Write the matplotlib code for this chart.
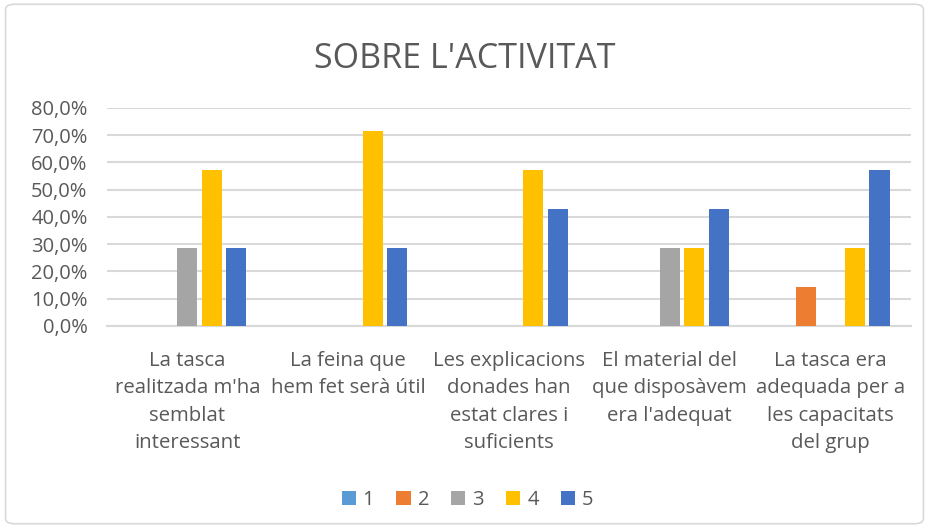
import matplotlib.pyplot as plt
import numpy as np
from matplotlib.patches import FancyBboxPatch

CATEGORIES = ["La tasca\nrealitzada m'ha\nsemblat\ninteressant",
              "La feina que\nhem fet serà útil",
              "Les explicacions\ndonades han\nestat clares i\nsuficients",
              "El material del\nque disposàvem\nera l'adequat",
              "La tasca era\nadequada per a\nles capacitats\ndel grup"]
SERIES = ['1', '2', '3', '4', '5']
VALUES = {
    '1': [0.0, 0.0, 0.0, 0.0, 0.0],
    '2': [0.0, 0.0, 0.0, 0.0, 14.3],
    '3': [28.6, 0.0, 0.0, 28.6, 0.0],
    '4': [57.1, 71.4, 57.1, 28.6, 28.6],
    '5': [28.6, 28.6, 42.9, 42.9, 57.1],
}
COLOURS = ['#5B9BD5', '#ED7D31', '#A5A5A5', '#FFC000', '#4472C4']
YTICKS = [0, 10, 20, 30, 40, 50, 60, 70, 80]

TEXT = '#595959'
GRID = '#D9D9D9'
plt.rcParams['font.family'] = ['Open Sans', 'DejaVu Sans']

fig = plt.figure(figsize=(9.29, 5.28), dpi=100)
ax = fig.add_axes([0.1152, 0.3826, 0.8654, 0.4129])

x = np.arange(len(CATEGORIES))
stride = 0.152
for i, s in enumerate(SERIES):
    ax.bar(x + (i - 2) * stride, VALUES[s], width=0.125, color=COLOURS[i],
           label=s, zorder=3)

ax.set_xlim(-0.5, len(CATEGORIES) - 0.5)
ax.set_ylim(0, 80)
ax.set_yticks(YTICKS)
ax.set_yticklabels([f'{v:.1f}%'.replace('.', ',') for v in YTICKS])
ax.set_xticks(x)
ax.set_xticklabels(CATEGORIES, linespacing=1.5)
ax.tick_params(axis='both', length=0, colors=TEXT)
ax.tick_params(axis='x', pad=18, labelsize=14.7)
ax.tick_params(axis='y', pad=14, labelsize=14.5)
ax.grid(axis='y', color=GRID, linewidth=1.5, zorder=0)
for sp in ['top', 'right', 'left']:
    ax.spines[sp].set_visible(False)
ax.spines['bottom'].set_color(GRID)
ax.spines['bottom'].set_linewidth(1.5)

fig.text(0.5, 0.888, "SOBRE L'ACTIVITAT", ha='center', va='center',
         fontsize=24.5, color=TEXT)

ax.legend(loc='center', bbox_to_anchor=(0.5033, 0.053),
          bbox_transform=fig.transFigure, ncol=5, frameon=False,
          fontsize=14.5, labelcolor=TEXT, handlelength=0.7, handleheight=0.7,
          handletextpad=0.35, columnspacing=1.1)

fig.patches.append(FancyBboxPatch((0.006, 0.008), 0.988, 0.984,
                                  boxstyle='round,pad=0,rounding_size=0.01',
                                  transform=fig.transFigure, fill=False,
                                  edgecolor=GRID, linewidth=1.2))

fig.savefig('out.png', dpi=100)
